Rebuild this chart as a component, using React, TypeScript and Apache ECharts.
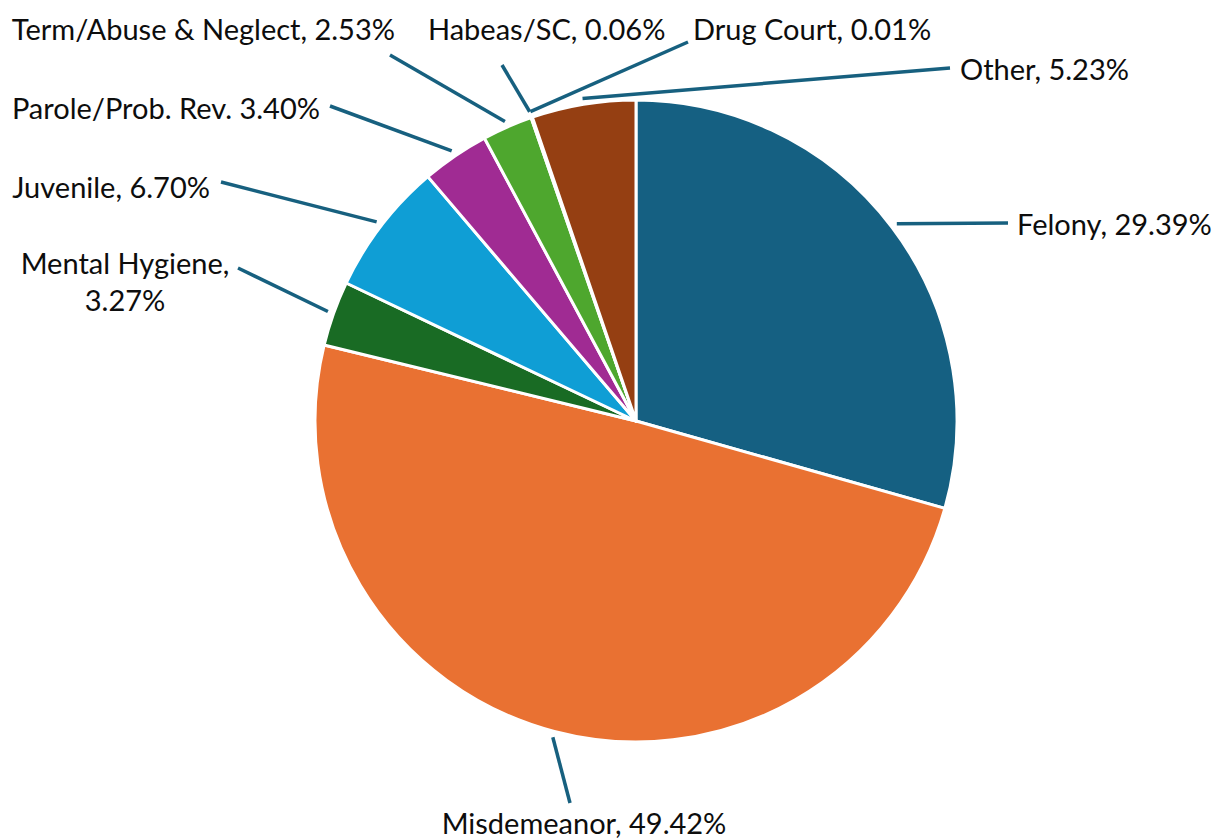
import React, { useEffect, useRef } from "react";
import * as echarts from "echarts";

const categories = [
  "Felony",
  "Misdemeanor",
  "Mental Hygiene",
  "Juvenile",
  "Parole/Prob. Rev.",
  "Term/Abuse & Neglect",
  "Habeas/SC",
  "Drug Court",
  "Other",
];
const shares = [29.39, 49.42, 3.27, 6.7, 3.4, 2.53, 0.06, 0.01, 5.23];
const separators = [", ", ", ", ",\n", ", ", " ", ", ", ", ", ", ", ", "];
const sliceColors = [
  "#156082",
  "#E97132",
  "#196B24",
  "#0F9ED5",
  "#A02B93",
  "#4EA72E",
  "#0C3A4E",
  "#8B3A10",
  "#953F12",
];

const CENTER = [636, 421];
const RADIUS = 321;
const LINE_GAP = 6;

// Label placement (pixels in the chart box): text anchor + where the leader line ends
const labelPlacement: { x: number; y: number; align: string; end: number[] }[] = [
  { x: 1017, y: 223, align: "left", end: [1008, 223] },
  { x: 584, y: 822, align: "center", end: [570, 803] },
  { x: 125, y: 281, align: "center", end: [238, 268] },
  { x: 210, y: 186, align: "right", end: [221, 182] },
  { x: 320, y: 107, align: "right", end: [330, 106] },
  { x: 395, y: 28, align: "right", end: [390, 55] },
  { x: 428, y: 28, align: "left", end: [502, 65] },
  { x: 693, y: 28, align: "left", end: [688, 42] },
  { x: 960, y: 68, align: "left", end: [950, 68] },
];

export default function App() {
  const ref = useRef<HTMLDivElement>(null);
  useEffect(() => {
    if (!ref.current) return;
    const chart = echarts.init(ref.current, undefined, { renderer: "svg" });
    const data = categories.map((name, i) => ({
      name,
      value: shares[i],
      itemStyle: { color: sliceColors[i] },
    }));
    chart.setOption({
      animation: false,
      backgroundColor: "#ffffff",
      series: [
        {
          type: "pie",
          center: CENTER,
          radius: RADIUS,
          startAngle: 90,
          clockwise: true,
          avoidLabelOverlap: false,
          minAngle: 0,
          data,
          itemStyle: { borderColor: "#ffffff", borderWidth: 3 },
          label: {
            show: true,
            position: "outside",
            fontFamily: "Lato",
            fontSize: 29,
            lineHeight: 37,
            color: "#0D0D0D",
            formatter: (p: any) =>
              categories[p.dataIndex] +
              separators[p.dataIndex] +
              shares[p.dataIndex].toFixed(2) +
              "%",
          },
          labelLine: {
            show: true,
            lineStyle: { color: "#17607F", width: 3.5 },
          },
          labelLayout: (params: any) => {
            const pl = labelPlacement[params.dataIndex];
            let start = pl.end;
            if (params.labelLinePoints && params.labelLinePoints[0]) {
              const p0 = params.labelLinePoints[0];
              const dx = p0[0] - CENTER[0];
              const dy = p0[1] - CENTER[1];
              const d = Math.sqrt(dx * dx + dy * dy) || 1;
              const k = (d + LINE_GAP) / d;
              start = [CENTER[0] + dx * k, CENTER[1] + dy * k];
            }
            return {
              x: pl.x,
              y: pl.y,
              align: pl.align,
              verticalAlign: "middle",
              labelLinePoints: [start, pl.end],
            };
          },
        },
      ],
    });
    return () => chart.dispose();
  }, []);
  return (
    <div
      ref={ref}
      style={{ position: "absolute", left: 0, top: 0, width: 1213, height: 838 }}
    />
  );
}
